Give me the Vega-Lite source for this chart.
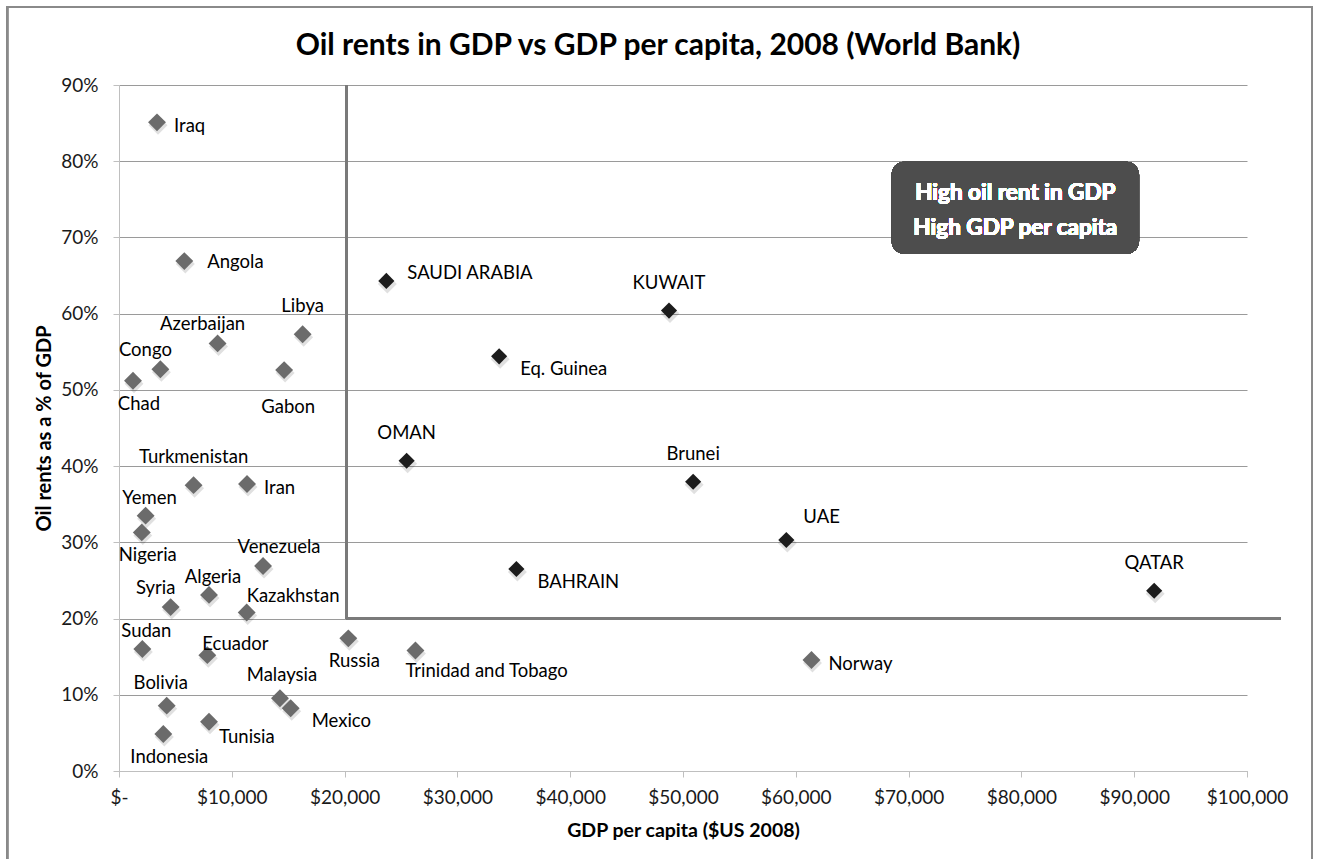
{
  "$schema": "https://vega.github.io/schema/vega-lite/v6.json",
  "width": 1128,
  "height": 686,
  "autosize": {"type": "none"},
  "padding": {"left": 119, "top": 85, "right": 75, "bottom": 88},
  "background": "white",
  "config": {
    "view": {"stroke": null},
    "font": "Lato",
    "axis": {"labelFont": "Lato", "titleFont": "Lato"}
  },
  "title": {
    "text": "Oil rents in GDP vs GDP per capita, 2008 (World Bank)",
    "anchor": "middle",
    "baseline": "bottom",
    "dx": -25,
    "dy": 84,
    "offset": 0,
    "fontSize": 30,
    "font": "Lato",
    "fontWeight": "bold",
    "color": "#000000"
  },
  "data": {
    "values": [
      {"country": "Iraq", "gdp": 3369, "rent": 85.1, "group": "low"},
      {"country": "Angola", "gdp": 5790, "rent": 66.9, "group": "low"},
      {"country": "SAUDI ARABIA", "gdp": 23700, "rent": 64.3, "group": "high"},
      {"country": "KUWAIT", "gdp": 48760, "rent": 60.4, "group": "high"},
      {"country": "Libya", "gdp": 16280, "rent": 57.3, "group": "low"},
      {"country": "Azerbaijan", "gdp": 8740, "rent": 56.1, "group": "low"},
      {"country": "Congo", "gdp": 3670, "rent": 52.7, "group": "low"},
      {"country": "Chad", "gdp": 1240, "rent": 51.2, "group": "low"},
      {"country": "Gabon", "gdp": 14640, "rent": 52.6, "group": "low"},
      {"country": "Eq. Guinea", "gdp": 33700, "rent": 54.4, "group": "high"},
      {"country": "OMAN", "gdp": 25500, "rent": 40.7, "group": "high"},
      {"country": "Turkmenistan", "gdp": 6610, "rent": 37.5, "group": "low"},
      {"country": "Iran", "gdp": 11350, "rent": 37.65, "group": "low"},
      {"country": "Yemen", "gdp": 2360, "rent": 33.5, "group": "low"},
      {"country": "Nigeria", "gdp": 2020, "rent": 31.3, "group": "low"},
      {"country": "Venezuela", "gdp": 12770, "rent": 26.9, "group": "low"},
      {"country": "BAHRAIN", "gdp": 35230, "rent": 26.5, "group": "high"},
      {"country": "Brunei", "gdp": 50900, "rent": 37.95, "group": "high"},
      {"country": "UAE", "gdp": 59160, "rent": 30.3, "group": "high"},
      {"country": "QATAR", "gdp": 91770, "rent": 23.65, "group": "high"},
      {"country": "Norway", "gdp": 61390, "rent": 14.56, "group": "low"},
      {"country": "Algeria", "gdp": 7980, "rent": 23.1, "group": "low"},
      {"country": "Syria", "gdp": 4580, "rent": 21.5, "group": "low"},
      {"country": "Kazakhstan", "gdp": 11320, "rent": 20.8, "group": "low"},
      {"country": "Sudan", "gdp": 2070, "rent": 16.0, "group": "low"},
      {"country": "Ecuador", "gdp": 7830, "rent": 15.2, "group": "low"},
      {"country": "Russia", "gdp": 20330, "rent": 17.4, "group": "low"},
      {"country": "Trinidad and Tobago", "gdp": 26280, "rent": 15.8, "group": "low"},
      {"country": "Malaysia", "gdp": 14270, "rent": 9.54, "group": "low"},
      {"country": "Mexico", "gdp": 15220, "rent": 8.23, "group": "low"},
      {"country": "Bolivia", "gdp": 4230, "rent": 8.57, "group": "low"},
      {"country": "Tunisia", "gdp": 7980, "rent": 6.47, "group": "low"},
      {"country": "Indonesia", "gdp": 3930, "rent": 4.85, "group": "low"}
    ]
  },
  "encoding": {
    "x": {
      "field": "gdp", "type": "quantitative",
      "scale": {"domain": [0, 100000], "nice": false, "zero": true},
      "axis": {
        "title": "GDP per capita ($US 2008)",
        "values": [0, 10000, 20000, 30000, 40000, 50000, 60000, 70000, 80000, 90000, 100000],
        "labelExpr": "datum.value == 0 ? '$-' : '$' + format(datum.value, ',')",
        "grid": false,
        "domainColor": "#bfbfbf",
        "tickColor": "#bfbfbf",
        "tickSize": 6,
        "labelFontSize": 19,
        "labelColor": "#1a1a1a",
        "labelPadding": 11,
        "labelFlush": false,
        "titleFontSize": 19.5,
        "titleFontWeight": "bold",
        "titleColor": "#000000",
        "titleY": 59,
        "titleBaseline": "middle"
      }
    },
    "y": {
      "field": "rent", "type": "quantitative",
      "scale": {"domain": [0, 90], "nice": false},
      "axis": {
        "title": "Oil rents as a % of GDP",
        "values": [0, 10, 20, 30, 40, 50, 60, 70, 80, 90],
        "labelExpr": "datum.value + '%'",
        "grid": true,
        "gridColor": "#9a9a9a",
        "gridWidth": 1,
        "domainColor": "#bfbfbf",
        "tickColor": "#bfbfbf",
        "tickSize": 6,
        "labelFontSize": 19,
        "labelColor": "#1a1a1a",
        "labelPadding": 15,
        "titleFontSize": 20,
        "titleFontWeight": "bold",
        "titleColor": "#000000",
        "titleX": -75,
        "titleY": 343,
        "titleBaseline": "middle",
        "titleAngle": 270
      }
    }
  },
  "layer": [
    {
      "mark": {"type": "rect", "fill": null, "fillOpacity": 0, "stroke": "#8a8a8a", "strokeWidth": 1.5},
      "encoding": {
        "x": {"datum": -9902, "type": "quantitative"},
        "x2": {"datum": 105762},
        "y": {"datum": 100.2, "type": "quantitative"},
        "y2": {"datum": -15}
      }
    },
    {
      "mark": {"type": "rule", "color": "#7a7a7a", "strokeWidth": 2},
      "encoding": {
        "x": {"datum": 20150, "type": "quantitative"},
        "y": {"datum": 90, "type": "quantitative"},
        "y2": {"datum": 20}
      }
    },
    {
      "mark": {"type": "rule", "color": "#7a7a7a", "strokeWidth": 2},
      "encoding": {
        "x": {"datum": 20150, "type": "quantitative"},
        "x2": {"datum": 103000},
        "y": {"datum": 20, "type": "quantitative"}
      }
    },
    {
      "mark": {"type": "rect", "fill": "#4d4d4d", "cornerRadius": 13},
      "encoding": {
        "x": {"datum": 68500, "type": "quantitative"},
        "x2": {"datum": 90430},
        "y": {"datum": 79.94, "type": "quantitative"},
        "y2": {"datum": 67.83}
      }
    },
    {
      "mark": {"type": "text", "color": "white", "fontSize": 22.5, "fontWeight": "bold", "font": "Lato", "align": "center", "baseline": "middle"},
      "encoding": {
        "x": {"datum": 79460, "type": "quantitative"},
        "y": {"datum": 75.87, "type": "quantitative"},
        "text": {"value": "High oil rent in GDP"}
      }
    },
    {
      "mark": {"type": "text", "color": "white", "fontSize": 22.5, "fontWeight": "bold", "font": "Lato", "align": "center", "baseline": "middle"},
      "encoding": {
        "x": {"datum": 79460, "type": "quantitative"},
        "y": {"datum": 71.2, "type": "quantitative"},
        "text": {"value": "High GDP per capita"}
      }
    },
    {
      "mark": {"type": "point", "shape": "diamond", "filled": true, "size": 360, "color": "#000000", "opacity": 0.12, "xOffset": 1, "yOffset": 3}
    },
    {
      "transform": [{"filter": "datum.group == 'low'"}],
      "mark": {"type": "point", "shape": "diamond", "filled": true, "size": 320, "color": "#6b6b6b", "opacity": 1}
    },
    {
      "transform": [{"filter": "datum.group == 'high'"}],
      "mark": {"type": "point", "shape": "diamond", "filled": true, "size": 260, "color": "#1c1c1c", "opacity": 1}
    },
    {
      "transform": [{"filter": {"field": "country", "oneOf": ["Iraq", "Iran", "Norway"]}}],
      "mark": {"type": "text", "align": "left", "baseline": "middle", "dx": 17, "dy": 4, "fontSize": 18.5, "color": "#000000"},
      "encoding": {"text": {"field": "country"}}
    },
    {
      "transform": [{"filter": {"field": "country", "oneOf": ["Angola"]}}],
      "mark": {"type": "text", "align": "left", "baseline": "middle", "dx": 23, "dy": 1, "fontSize": 18.5, "color": "#000000"},
      "encoding": {"text": {"field": "country"}}
    },
    {
      "transform": [{"filter": {"field": "country", "oneOf": ["Eq. Guinea", "BAHRAIN", "Mexico"]}}],
      "mark": {"type": "text", "align": "left", "baseline": "middle", "dx": 21, "dy": 13, "fontSize": 18.5, "color": "#000000"},
      "encoding": {"text": {"field": "country"}}
    },
    {
      "transform": [{"filter": {"field": "country", "oneOf": ["Tunisia"]}}],
      "mark": {"type": "text", "align": "left", "baseline": "middle", "dx": 10, "dy": 15, "fontSize": 18.5, "color": "#000000"},
      "encoding": {"text": {"field": "country"}}
    },
    {
      "transform": [{"filter": {"field": "country", "oneOf": ["SAUDI ARABIA"]}}],
      "mark": {"type": "text", "align": "left", "baseline": "middle", "dx": 21, "dy": -8, "fontSize": 18.5, "color": "#000000"},
      "encoding": {"text": {"field": "country"}}
    },
    {
      "transform": [{"filter": {"field": "country", "oneOf": ["UAE"]}}],
      "mark": {"type": "text", "align": "left", "baseline": "middle", "dx": 17, "dy": -23, "fontSize": 18.5, "color": "#000000"},
      "encoding": {"text": {"field": "country"}}
    },
    {
      "transform": [{"filter": {"field": "country", "oneOf": ["Kazakhstan"]}}],
      "mark": {"type": "text", "align": "left", "baseline": "middle", "dx": 0, "dy": -16, "fontSize": 18.5, "color": "#000000"},
      "encoding": {"text": {"field": "country"}}
    },
    {
      "transform": [{"filter": {"field": "country", "oneOf": ["Ecuador"]}}],
      "mark": {"type": "text", "align": "left", "baseline": "middle", "dx": -5, "dy": -11, "fontSize": 18.5, "color": "#000000"},
      "encoding": {"text": {"field": "country"}}
    },
    {
      "transform": [{"filter": {"field": "country", "oneOf": ["Trinidad and Tobago"]}}],
      "mark": {"type": "text", "align": "left", "baseline": "middle", "dx": -10, "dy": 20, "fontSize": 18.5, "color": "#000000"},
      "encoding": {"text": {"field": "country"}}
    },
    {
      "transform": [{"filter": {"field": "country", "oneOf": ["KUWAIT", "Libya", "OMAN", "Turkmenistan", "Brunei", "QATAR"]}}],
      "mark": {"type": "text", "align": "center", "baseline": "middle", "dx": 0, "dy": -28, "fontSize": 18.5, "color": "#000000"},
      "encoding": {"text": {"field": "country"}}
    },
    {
      "transform": [{"filter": {"field": "country", "oneOf": ["Malaysia"]}}],
      "mark": {"type": "text", "align": "center", "baseline": "middle", "dx": 2, "dy": -23, "fontSize": 18.5, "color": "#000000"},
      "encoding": {"text": {"field": "country"}}
    },
    {
      "transform": [{"filter": {"field": "country", "oneOf": ["Yemen", "Sudan", "Algeria"]}}],
      "mark": {"type": "text", "align": "center", "baseline": "middle", "dx": 4, "dy": -18, "fontSize": 18.5, "color": "#000000"},
      "encoding": {"text": {"field": "country"}}
    },
    {
      "transform": [{"filter": {"field": "country", "oneOf": ["Bolivia"]}}],
      "mark": {"type": "text", "align": "center", "baseline": "middle", "dx": -6, "dy": -23, "fontSize": 18.5, "color": "#000000"},
      "encoding": {"text": {"field": "country"}}
    },
    {
      "transform": [{"filter": {"field": "country", "oneOf": ["Venezuela"]}}],
      "mark": {"type": "text", "align": "center", "baseline": "middle", "dx": 16, "dy": -19, "fontSize": 18.5, "color": "#000000"},
      "encoding": {"text": {"field": "country"}}
    },
    {
      "transform": [{"filter": {"field": "country", "oneOf": ["Azerbaijan", "Congo", "Syria"]}}],
      "mark": {"type": "text", "align": "center", "baseline": "middle", "dx": -15, "dy": -19, "fontSize": 18.5, "color": "#000000"},
      "encoding": {"text": {"field": "country"}}
    },
    {
      "transform": [{"filter": {"field": "country", "oneOf": ["Chad", "Nigeria", "Russia", "Indonesia"]}}],
      "mark": {"type": "text", "align": "center", "baseline": "middle", "dx": 6, "dy": 23, "fontSize": 18.5, "color": "#000000"},
      "encoding": {"text": {"field": "country"}}
    },
    {
      "transform": [{"filter": {"field": "country", "oneOf": ["Gabon"]}}],
      "mark": {"type": "text", "align": "center", "baseline": "middle", "dx": 4, "dy": 37, "fontSize": 18.5, "color": "#000000"},
      "encoding": {"text": {"field": "country"}}
    }
  ]
}
